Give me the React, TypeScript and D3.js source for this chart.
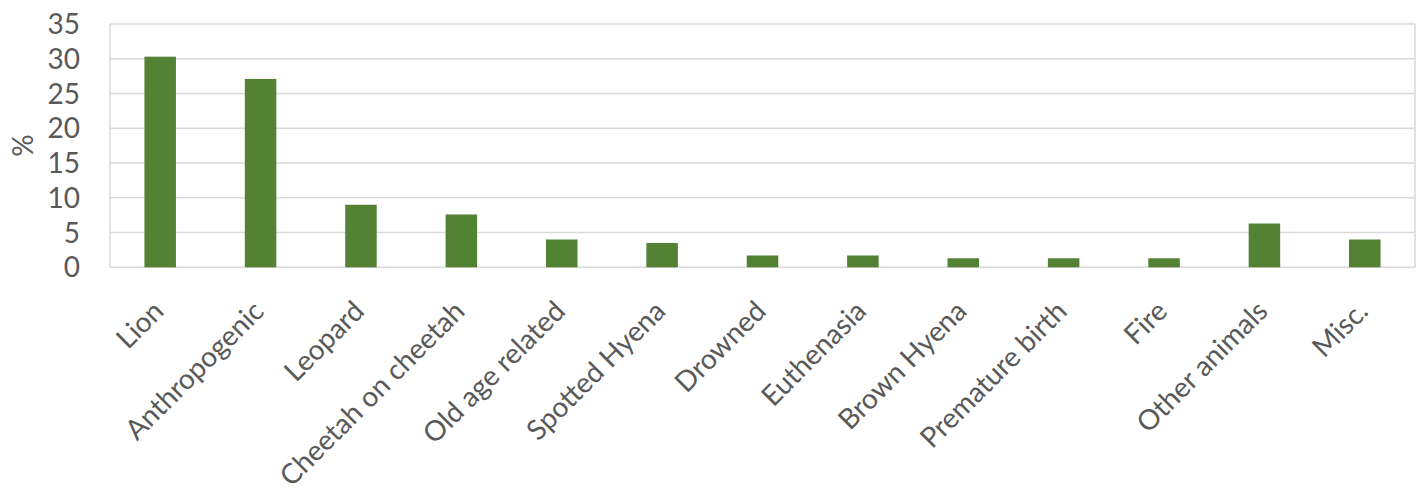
import React from "react";
import * as d3 from "d3";

const categories = [
  "Lion",
  "Anthropogenic",
  "Leopard",
  "Cheetah on cheetah",
  "Old age related",
  "Spotted Hyena",
  "Drowned",
  "Euthenasia",
  "Brown Hyena",
  "Premature birth",
  "Fire",
  "Other animals",
  "Misc.",
];
const values = [30.3, 27.1, 9.0, 7.6, 4.0, 3.5, 1.7, 1.7, 1.3, 1.3, 1.3, 6.3, 4.0];
const yTicks = [0, 5, 10, 15, 20, 25, 30, 35];
const yLabel = "%";

const W = 1424;
const H = 491;
const M = { left: 110, right: 9, top: 24, bottom: 224 };
const FONT = "Lato, 'Open Sans', sans-serif";
const TEXT = "#595959";
const GRID = "#d9d9d9";
const BAR = "#548235";

export default function App() {
  const x = d3
    .scaleBand<string>()
    .domain(categories)
    .range([M.left, W - M.right])
    .paddingInner(0.686)
    .paddingOuter(0.343);
  const y = d3.scaleLinear().domain([0, 35]).range([H - M.bottom + 0.3, M.top]);
  const bottom = y(0);

  return (
    <svg
      width={W}
      height={H}
      style={{ position: "absolute", left: 0, top: 0, background: "#fff" }}
      fontFamily={FONT}
    >
      {yTicks.map((t) => (
        <line
          key={"g" + t}
          x1={M.left}
          x2={W - M.right}
          y1={y(t)}
          y2={y(t)}
          stroke={GRID}
          strokeWidth={1.5}
        />
      ))}
      <line x1={M.left} x2={M.left} y1={y(35)} y2={bottom} stroke={GRID} strokeWidth={1.5} />
      <line x1={W - M.right} x2={W - M.right} y1={y(35)} y2={bottom} stroke={GRID} strokeWidth={1.5} />
      {categories.map((c, i) => (
        <rect
          key={c}
          x={x(c)}
          y={y(values[i])}
          width={x.bandwidth()}
          height={bottom - y(values[i])}
          fill={BAR}
        />
      ))}
      {yTicks.map((t) => (
        <text
          key={"t" + t}
          x={80}
          y={y(t)}
          dy="0.36em"
          textAnchor="end"
          fontSize={28}
          fill={TEXT}
        >
          {t}
        </text>
      ))}
      <text
        transform={`translate(33,${(y(35) + bottom) / 2}) rotate(-90)`}
        textAnchor="middle"
        fontSize={28}
        fill={TEXT}
      >
        {yLabel}
      </text>
      {categories.map((c) => (
        <text
          key={"l" + c}
          transform={`translate(${(x(c) as number) + x.bandwidth() / 2 + 5},313) rotate(-45)`}
          textAnchor="end"
          fontSize={28}
          fill={TEXT}
        >
          {c}
        </text>
      ))}
    </svg>
  );
}
